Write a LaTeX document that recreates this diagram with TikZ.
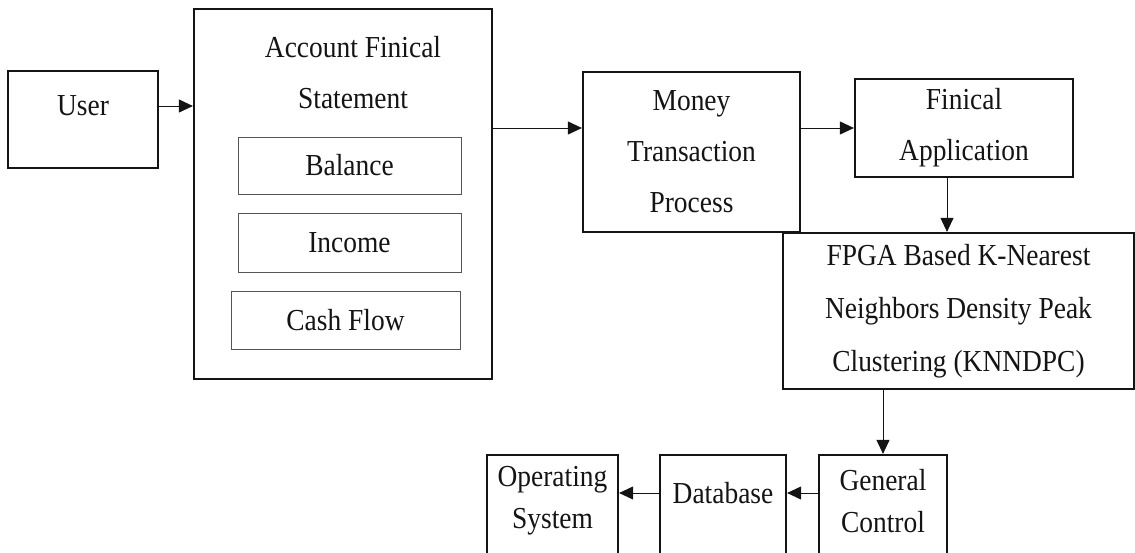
\documentclass[tikz,border=0pt]{standalone}
\usepackage{fontspec}
\setmainfont[FakeStretch=0.9]{Liberation Serif}
\usetikzlibrary{positioning}
\usetikzlibrary{arrows.meta}
\newcommand{\FontSize}{30.5}
\newcommand{\LineSkip}{51}
\newcommand{\LineSkipLow}{42}
\newcommand{\BoxThick}{2.2pt}
\newcommand{\InnerThick}{1pt}
\newcommand{\ArrowThick}{0.9pt}
\newcommand{\TipLength}{14pt}
\newcommand{\TipWidth}{13pt}
\newcommand{\LowBoxHeight}{120}
\definecolor{Black}{RGB}{20, 20, 20}
\definecolor{DarkGray}{RGB}{85, 85, 85}

\begin{document}
\begin{tikzpicture}[x=1pt,y=-1pt]
  \tikzstyle{every node}=[font=\fontsize{\FontSize}{\LineSkip}\selectfont, inner sep=0pt, text=Black]
  \tikzstyle{block}=[draw=Black, line width=\BoxThick]
  \tikzstyle{subblock}=[draw=DarkGray, line width=\InnerThick]
  \tikzstyle{lowtext}=[align=center, font=\fontsize{\FontSize}{\LineSkipLow}\selectfont]
  \tikzstyle{flow}=[draw=Black, line width=\ArrowThick, -{Triangle[length=\TipLength,width=\TipWidth]}]
  \useasboundingbox (0,0) rectangle (1135,552);
  \clip (0,0) rectangle (1135,552);

  % User
  \node[block, minimum width=150, minimum height=97] (user) at (83,119.5) {};
  \node (userT) at (83,106) {User};

  % Account statement with its three parts
  \node[block, minimum width=298, minimum height=370] (afs) at (343,194) {};
  \node[align=center] (afsT) at (353,73) {Account Finical\\Statement};
  \node[subblock, minimum width=223, minimum height=57] (balance) at (349.5,165.5) {Balance};
  \node[subblock, minimum width=223, minimum height=59] (income) at (349.5,242.5) {Income};
  \node[subblock, minimum width=229, minimum height=58] (cashflow) at (345.5,320) {Cash Flow};

  % Transaction and application
  \node[block, minimum width=217, minimum height=160, align=center] (money) at (691.5,152) {Money\\Transaction\\Process};
  \node[block, minimum width=218, minimum height=98, align=center] (fin) at (964,128) {Finical\\Application};

  % Clustering
  \node[block, minimum width=351, minimum height=156, align=center, font=\fontsize{\FontSize}{53}\selectfont] (fpga) at (958.5,311)
    {FPGA Based K-Nearest\\Neighbors Density Peak\\Clustering (KNNDPC)};

  % Bottom row
  \node[block, minimum width=128, minimum height=\LowBoxHeight] (general) at (883,515) {};
  \node[lowtext] (generalT) at (883,501) {General\\Control};
  \node[block, minimum width=126, minimum height=\LowBoxHeight] (db) at (723,515) {};
  \node (dbT) at (723,493) {Database};
  \node[block, minimum width=131, minimum height=\LowBoxHeight] (os) at (552.5,515) {};
  \node[lowtext] (osT) at (552.5,501) {Operating\\System};

  % Arrows
  \draw[flow] (user.east |- userT) -- (afs.west |- userT);
  \draw[flow] (afs.east |- fin.west) -- (money.west |- fin.west);
  \draw[flow] (money.east |- fin.west) -- (fin.west);
  \draw[flow] ([xshift=-17pt]fin.south) -- ([xshift=-17pt]fin.south |- fpga.north);
  \draw[flow] (fpga.south -| general.north) -- (general.north);
  \draw[flow] (general.west |- dbT) -- (db.east |- dbT);
  \draw[flow] (db.west |- dbT) -- (os.east |- dbT);
\end{tikzpicture}
\end{document}
